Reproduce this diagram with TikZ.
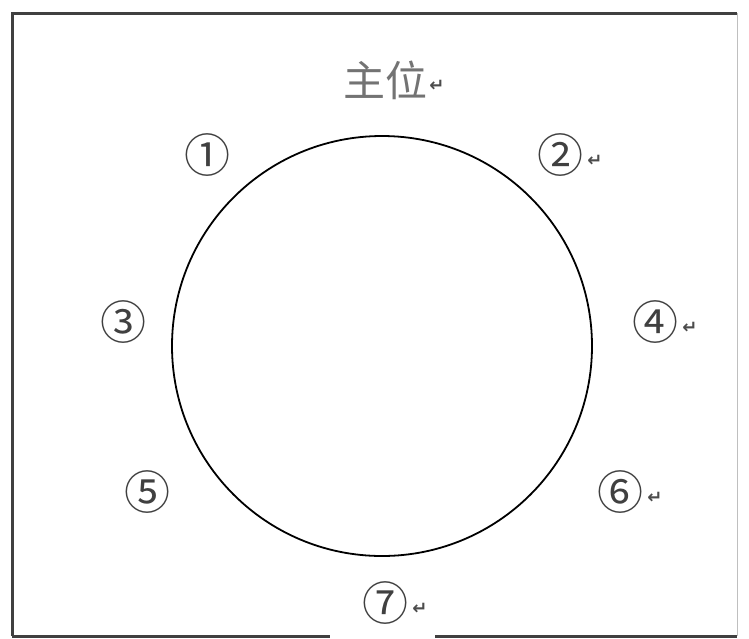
\documentclass[tikz,border=0pt]{standalone}
\usepackage{fontspec}
\newfontfamily\cjk{Noto Sans CJK SC}
\newfontfamily\dejavu{DejaVu Sans}
\begin{document}
\begin{tikzpicture}[x=1pt,y=-1pt,
  lbl/.style={font=\cjk\fontsize{46}{50}\selectfont, text=black!75, inner sep=0pt},
  ret/.style={font=\dejavu\bfseries\fontsize{18}{20}\selectfont, text=black!70, inner sep=0pt, anchor=west},
  frame/.style={draw=black!75, line width=3pt}]
\useasboundingbox (0,0) rectangle (749,638);
\fill[white] (0,0) rectangle (749,638);
\draw[frame] (12,636) -- (12,13) -- (737,13);
\draw[draw=black!25, line width=1pt] (737,13) -- (737,636);
\draw[frame] (12,636) -- (330,636);
\draw[frame] (435,636) -- (737,636);
\node[draw=black, line width=1.8pt, circle, minimum size=420pt, inner sep=0pt] (c) at (382,346) {};
\node[lbl, text=black!55, font=\cjk\fontsize{42}{46}\selectfont] (top) at (385,80) {主位};
\node[lbl] (n1) at (207,155) {①};
\node[lbl] (n2) at (560,155) {②};
\node[lbl] (n3) at (123,322) {③};
\node[lbl] (n4) at (655,322) {④};
\node[lbl] (n5) at (147,492) {⑤};
\node[lbl] (n6) at (620,492) {⑥};
\node[lbl] (n7) at (385,603) {⑦};
\node[ret] (r0) at ([xshift=2pt,yshift=-6pt]top.east) {↵};
\node[ret] (r2) at ([xshift=4pt,yshift=-6pt]n2.east) {↵};
\node[ret] (r4) at ([xshift=4pt,yshift=-6pt]n4.east) {↵};
\node[ret] (r6) at ([xshift=4pt,yshift=-6pt]n6.east) {↵};
\node[ret] (r7) at ([xshift=4pt,yshift=-6pt]n7.east) {↵};
\end{tikzpicture}
\end{document}
